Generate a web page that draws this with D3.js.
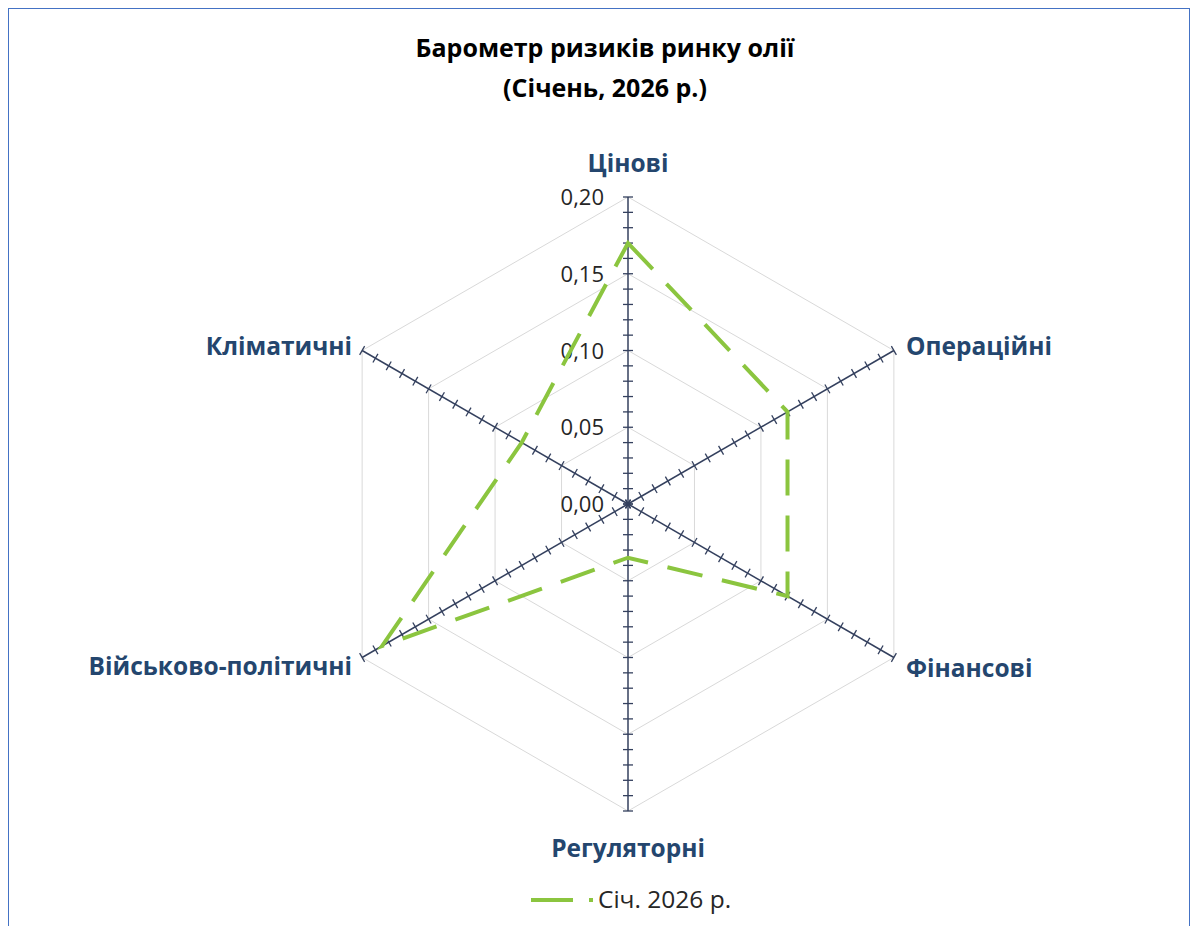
<!DOCTYPE html>
<html>
<head>
<meta charset="utf-8">
<script src="https://cdn.jsdelivr.net/npm/d3@7"></script>
<style>
  html, body { margin: 0; padding: 0; background: #ffffff; }
  svg { display: block; }
</style>
</head>
<body>
<svg id="chart" width="1199" height="926"></svg>
<script>
// ---- Data ----
const categories = ["Цінові", "Операційні", "Фінансові", "Регуляторні", "Військово-політичні", "Кліматичні"];
const seriesName = "Січ. 2026 р.";
const seriesValues = [0.17, 0.12, 0.12, 0.035, 0.185, 0.08];
const gridLevels = [0.05, 0.10, 0.15, 0.20];
const tickValues = [0, 0.05, 0.10, 0.15, 0.20];
const tickLabels = ["0,00", "0,05", "0,10", "0,15", "0,20"];
const titleLines = ["Барометр ризиків ринку олії", "(Січень, 2026 р.)"];

// ---- Layout ----
const cx = 628, cy = 504, R = 307;
const FONT = "'Open Sans', 'DejaVu Sans', sans-serif";

const svg = d3.select("#chart");

// Border
svg.append("rect")
  .attr("x", 8.5).attr("y", 8.5).attr("width", 1181).attr("height", 940)
  .attr("fill", "none").attr("stroke", "#4472C4").attr("stroke-width", 1);

// Title
const title = svg.append("text")
  .attr("text-anchor", "middle")
  .attr("font-family", FONT).attr("font-weight", 700).attr("font-size", 25)
  .attr("fill", "#000");
title.selectAll("tspan").data(titleLines).join("tspan")
  .attr("x", 605).attr("y", (d, i) => 57 + i * 40).text(d => d);

const r = d3.scaleLinear().domain([0, 0.2]).range([0, R]);
const angle = d3.scalePoint().domain(categories).range([0, 2 * Math.PI * (categories.length - 1) / categories.length]);

const g = svg.append("g").attr("transform", `translate(${cx},${cy})`);

// Gridlines (hexagons)
const gridLine = d3.lineRadial()
  .angle(d => angle(d))
  .curve(d3.curveLinearClosed);
g.selectAll("path.grid").data(gridLevels).join("path")
  .attr("class", "grid")
  .attr("d", lv => gridLine.radius(() => r(lv))(categories))
  .attr("fill", "none").attr("stroke", "#d9d9d9").attr("stroke-width", 1);

// Axes with tick marks
const minorTicks = d3.range(0, 21).map(i => i / 100);
const axisG = g.selectAll("g.axis").data(categories).join("g")
  .attr("class", "axis")
  .attr("transform", d => `rotate(${angle(d) * 180 / Math.PI})`);
axisG.append("line")
  .attr("x1", 0).attr("y1", 0).attr("x2", 0).attr("y2", -r(0.2))
  .attr("stroke", "#34405E").attr("stroke-width", 1.5);
axisG.selectAll("line.tick").data(minorTicks).join("line")
  .attr("class", "tick")
  .attr("x1", -5).attr("x2", 5)
  .attr("y1", d => -r(d)).attr("y2", d => -r(d))
  .attr("stroke", "#34405E").attr("stroke-width", 1.3);

// Value tick labels on first axis
g.selectAll("text.tl").data(tickValues).join("text")
  .attr("class", "tl")
  .attr("x", -24).attr("y", d => -r(d) + 8)
  .attr("text-anchor", "end")
  .attr("font-family", FONT).attr("font-size", 22).attr("fill", "#262626")
  .text((d, i) => tickLabels[i]);

// Category labels
const labelPos = {
  "Цінові": { x: 0, y: -332, anchor: "middle" },
  "Операційні": { x: 278, y: -149, anchor: "start" },
  "Фінансові": { x: 278, y: 173, anchor: "start" },
  "Регуляторні": { x: 0, y: 353, anchor: "middle" },
  "Військово-політичні": { x: -276, y: 171, anchor: "end" },
  "Кліматичні": { x: -276, y: -149, anchor: "end" }
};
g.selectAll("text.cat").data(categories).join("text")
  .attr("class", "cat")
  .attr("x", d => labelPos[d].x).attr("y", d => labelPos[d].y)
  .attr("text-anchor", d => labelPos[d].anchor)
  .attr("font-family", FONT).attr("font-weight", 700).attr("font-size", 24.5)
  .attr("fill", "#24466E")
  .text(d => d);

// Series line
const seriesLine = d3.lineRadial()
  .angle((d, i) => angle(categories[i]))
  .radius(d => r(d))
  .curve(d3.curveLinearClosed);
g.append("path")
  .datum(seriesValues)
  .attr("d", seriesLine)
  .attr("fill", "none")
  .attr("stroke", "#8BC53F")
  .attr("stroke-width", 4)
  .attr("stroke-dasharray", "36 20")
  .attr("stroke-linejoin", "miter");

// Legend
const lg = svg.append("g").attr("transform", "translate(531,900)");
lg.append("line").attr("x1", 0).attr("x2", 42).attr("y1", 0).attr("y2", 0)
  .attr("stroke", "#8BC53F").attr("stroke-width", 4);
lg.append("line").attr("x1", 58).attr("x2", 62).attr("y1", 0).attr("y2", 0)
  .attr("stroke", "#8BC53F").attr("stroke-width", 4);
lg.append("text").attr("x", 67).attr("y", 8)
  .attr("font-family", FONT).attr("font-size", 24.5).attr("fill", "#262626")
  .text(seriesName);
</script>
</body>
</html>
